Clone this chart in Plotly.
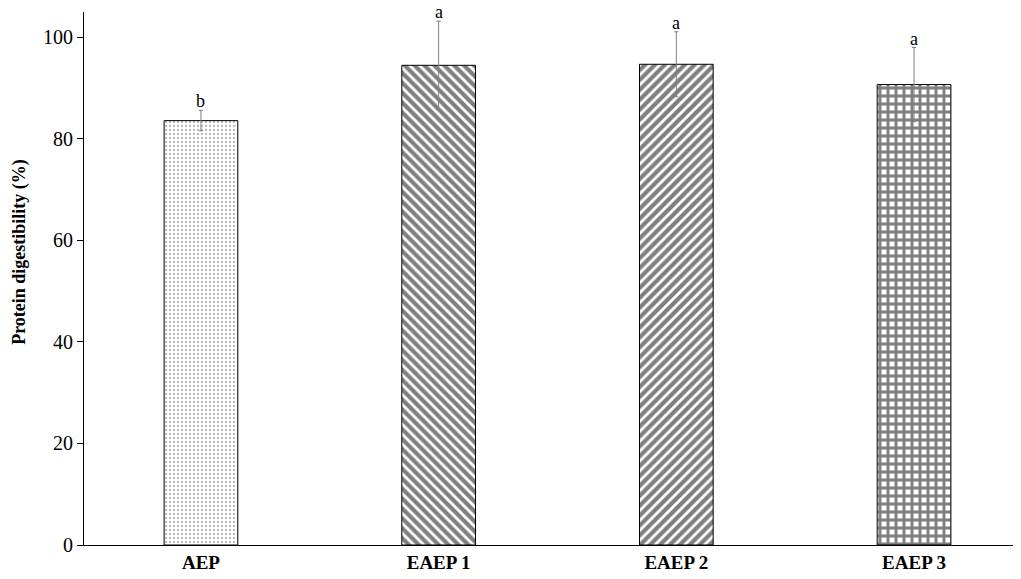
import plotly.graph_objects as go

categories = ["AEP", "EAEP 1", "EAEP 2", "EAEP 3"]
values = [83.6, 94.5, 94.7, 90.7]
errors = [2.0, 8.7, 6.4, 7.3]
letters = ["b", "a", "a", "a"]
y_ticks = [0, 20, 40, 60, 80, 100]

patterns = [
    dict(shape=".", fgcolor="#707070", bgcolor="white", size=4, solidity=0.25),
    dict(shape="\\", fgcolor="black", bgcolor="white", size=7, solidity=0.6),
    dict(shape="/", fgcolor="black", bgcolor="white", size=7, solidity=0.6),
    dict(shape="+", fgcolor="black", bgcolor="white", size=8, solidity=0.6),
]

fig = go.Figure()
for cat, v, e, p in zip(categories, values, errors, patterns):
    fig.add_trace(go.Bar(
        x=[cat], y=[v], width=0.31,
        marker=dict(color="white", pattern=p, line=dict(color="black", width=1)),
        error_y=dict(type="data", array=[e], visible=True, color="#808080",
                     thickness=1, width=2),
        showlegend=False,
    ))

for cat, v, e, t in zip(categories, values, errors, letters):
    fig.add_annotation(x=cat, y=v + e, text=t, showarrow=False,
                       yanchor="bottom", yshift=-2, borderpad=0,
                       font=dict(family="Liberation Serif", size=18, color="black"))

fig.add_annotation(xref="paper", yref="paper", x=0, y=0.55, xshift=-64,
                   text="<b>Protein digestibility (%)</b>", textangle=-90,
                   showarrow=False, xanchor="center", yanchor="middle",
                   font=dict(family="Liberation Serif", size=18, color="black"))

fig.update_layout(
    width=1021, height=579,
    margin=dict(l=76, r=8, t=4, b=42),
    plot_bgcolor="white", paper_bgcolor="white",
    font=dict(family="Liberation Serif", color="black"),
    barmode="overlay",
)
fig.update_xaxes(
    range=[-0.492, 3.45], showline=True, linecolor="black", linewidth=1,
    ticks="", showgrid=False, zeroline=False, automargin=False,
    tickfont=dict(family="Liberation Serif", size=19, color="black", weight="bold"),
)
fig.update_yaxes(
    range=[0, 105], tickvals=y_ticks, showline=True, linecolor="black", linewidth=1,
    ticks="outside", ticklen=6, tickcolor="black", showgrid=False, zeroline=False,
    automargin=False,
    tickfont=dict(family="Liberation Serif", size=20, color="black"),
)

fig.write_html("out.html")
